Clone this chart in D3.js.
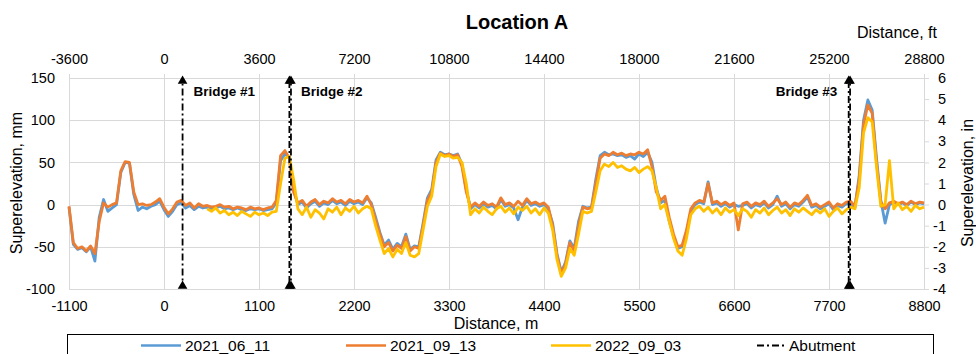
<!DOCTYPE html>
<html lang="en">
	<head>
		<meta charset="utf-8">
		<title>Location A</title>
		<script src="https://d3js.org/d3.v7.min.js"></script>
		<style type="text/css">
			body {
				margin: 0;
				background: #ffffff;
			}
			svg {
				display: block;
				font-family: Arial, "Liberation Sans", sans-serif;
			}
		</style>
	</head>
	<body>
		<div id="chart"></div>
		<script type="text/javascript">

			//Distance along the route, m
			var distance = [
				-1100, -1050, -1000, -950, -900, -850, -800, -750, -700, -650, -600, -550, -500, -450, -400, -350, -300, -250, -200, -150,
				-100, -50, 0, 50, 100, 150, 200, 250, 300, 350, 400, 450, 500, 550, 600, 650, 700, 750, 800, 850,
				900, 950, 1000, 1050, 1100, 1150, 1200, 1250, 1300, 1350, 1400, 1450, 1500, 1550, 1600, 1650, 1700, 1750, 1800, 1850,
				1900, 1950, 2000, 2050, 2100, 2150, 2200, 2250, 2300, 2350, 2400, 2450, 2500, 2550, 2600, 2650, 2700, 2750, 2800, 2850,
				2900, 2950, 3000, 3050, 3100, 3150, 3200, 3250, 3300, 3350, 3400, 3450, 3500, 3550, 3600, 3650, 3700, 3750, 3800, 3850,
				3900, 3950, 4000, 4050, 4100, 4150, 4200, 4250, 4300, 4350, 4400, 4450, 4500, 4550, 4600, 4650, 4700, 4750, 4800, 4850,
				4900, 4950, 5000, 5050, 5100, 5150, 5200, 5250, 5300, 5350, 5400, 5450, 5500, 5550, 5600, 5650, 5700, 5750, 5800, 5850,
				5900, 5950, 6000, 6050, 6100, 6150, 6200, 6250, 6300, 6350, 6400, 6450, 6500, 6550, 6600, 6650, 6700, 6750, 6800, 6850,
				6900, 6950, 7000, 7050, 7100, 7150, 7200, 7250, 7300, 7350, 7400, 7450, 7500, 7550, 7600, 7650, 7700, 7750, 7800, 7850,
				7900, 7950, 8000, 8050, 8100, 8150, 8200, 8250, 8300, 8350, 8400, 8450, 8500, 8550, 8600, 8650, 8700, 8750, 8800
			];

			//Superelevation, mm, one array per survey
			var run2021_06_11 = [
				-3, -47, -53, -51, -56, -50, -67, -15, 6, -8, -4, 0, 38, 50, 49, 12, -7, -3, -5, -2,
				0, 4, -6, -14, -8, 0, 2, -4, -1, -6, -2, -4, -3, -5, -4, -2, -5, -4, -6, -4,
				-6, -7, -5, -6, -5, -7, -6, -5, 2, 52, 60, 56, 18, 0, 3, -4, 1, 4, -2, 2,
				0, 5, 1, 3, -1, 4, 1, 3, 0, 8, 2, -15, -33, -48, -42, -53, -46, -50, -35, -53,
				-49, -50, -22, 8, 18, 53, 62, 59, 60, 58, 60, 48, 18, -5, 0, -4, 1, -3, -1, -5,
				6, -2, 0, -4, -18, -3, 5, -1, 1, -2, 0, -5, -22, -58, -80, -68, -43, -52, -20, -2,
				-4, -3, 30, 58, 62, 59, 60, 58, 59, 56, 58, 54, 60, 57, 62, 50, 20, 2, 5, -20,
				-38, -52, -50, -33, -8, 0, 3, 1, 27, 0, 2, -2, 1, -3, 0, -2, -1, 1, -4, 0,
				-2, 2, -4, 0, 10, -2, 1, -5, 0, -2, 3, 9, -3, -1, -5, -2, 1, -6, -1, -3,
				1, 2, -4, 35, 100, 124, 112, 55, 5, -22, 0, 3, 0, 2, -1, 3, 0, 2, 1
			];

			var run2021_09_13 = [
				-2, -45, -52, -50, -55, -49, -58, -20, 2, -3, 0, 2, 40, 51, 50, 15, 0, 1, -1, 0,
				3, 7, -3, -11, -5, 3, 5, -1, 2, -4, 1, -2, -1, -3, -2, 0, -3, -2, -5, -3,
				-4, -6, -3, -5, -4, -6, -4, -3, 5, 58, 64, 55, 15, 2, 5, -2, 3, 6, 0, 4,
				2, 7, 3, 5, 1, 6, 3, 5, 2, 10, 0, -18, -35, -50, -45, -55, -48, -52, -38, -55,
				-50, -52, -25, 5, 15, 50, 61, 58, 60, 57, 59, 45, 15, -3, 2, -2, 3, -1, 1, -3,
				8, 0, 2, -2, 4, -1, 7, 1, 3, 0, 2, -3, -25, -60, -82, -70, -45, -55, -25, -3,
				-5, -4, 25, 55, 60, 58, 62, 59, 61, 58, 60, 59, 62, 60, 65, 45, 15, 5, 10, -15,
				-35, -50, -48, -30, -5, 2, 5, 3, 25, 2, 4, 0, 3, -1, 2, -30, 1, 3, -2, 2,
				0, 4, -2, 2, 7, 0, 3, -3, 2, 0, 5, 11, -1, 1, -3, 0, 3, -4, 1, -1,
				3, 4, -2, 30, 95, 118, 108, 50, 3, -5, 2, 4, 1, 3, 0, 4, 1, 3, 2
			];

			var run2022_09_03 = [
				null, null, null, null, null, null, null, null, null, null, null, null, null, null, null, null, null, null, null, null,
				null, null, null, null, null, null, null, null, null, null, null, null, -5, -8, -4, -10, -7, -12, -9, -13,
				-8, -11, -14, -9, -12, -10, -13, -9, -8, 25, 55, 57, 30, -5, -12, -3, -15, -6, -10, -17,
				-5, -9, -3, -12, -4, -8, -2, -10, -5, -2, -5, -25, -42, -58, -52, -62, -53, -58, -45, -60,
				-62, -58, -30, -2, 10, 45, 60, 57, 58, 55, 56, 50, 25, -12, -5, -10, -3, -8, -12, -5,
				-2, -9, -4, -11, -3, -7, -2, -10, -5, -12, -4, -10, -30, -65, -85, -75, -52, -60, -35, -8,
				-10, -8, 15, 40, 48, 45, 50, 44, 46, 42, 40, 44, 38, 42, 45, 40, 20, -5, 0, -20,
				-40, -55, -60, -40, -12, -5, -2, -8, -3, -10, -5, -12, -4, -9, -6, -13, -5, -8, -15, -6,
				-10, -4, -12, -7, -3, -10, -6, -13, -5, -9, -4, -8, -12, -6, -10, -5, -14, -8, -4, -11,
				-6, -3, -5, 20, 85, 103, 98, 45, -2, 0, 52, -5, 2, -6, -2, -8, -1, -5, -3
			];

			var seriesNames = ["2021_06_11", "2021_09_13", "2022_09_03"];
			var seriesColors = ["#5b9bd5", "#ed7d31", "#ffc000"];

			//Tick labels
			var mTicks = [-1100, 0, 1100, 2200, 3300, 4400, 5500, 6600, 7700, 8800];
			var ftTicks = [-3600, 0, 3600, 7200, 10800, 14400, 18000, 21600, 25200, 28800];
			var mmTicks = [-100, -50, 0, 50, 100, 150];
			var inTicks = [-4, -3, -2, -1, 0, 1, 2, 3, 4, 5, 6];

			//Abutment positions, m, and bridge names
			var abutments = [215, 1452, 1470, 7928, 7944];
			var bridgeNames = ["Bridge #1", "Bridge #2", "Bridge #3"];
			var bridgeAt = [215, 1460, 7935];

			//Width and height
			var w = 976;
			var h = 354;
			var plotLeft = 69, plotRight = 924, plotTop = 78, plotBottom = 289;

			var xScale = d3.scaleLinear().domain([-1100, 8800]).range([plotLeft, plotRight]);
			var xFtScale = d3.scaleLinear().domain([-3600, 28800]).range([plotLeft, plotRight]);
			var yScale = d3.scaleLinear().domain([-100, 150]).range([plotBottom, plotTop]);
			var yInScale = d3.scaleLinear().domain([-4, 6]).range([plotBottom, plotTop]);

			//Plain labels with a hyphen minus, no thousands separator
			var plain = function(d) { return String(d); };

			var svg = d3.select("#chart")
						.append("svg")
						.attr("width", w)
						.attr("height", h);

			//Gridlines
			svg.append("g")
				.selectAll("line")
				.data(mTicks)
				.enter()
				.append("line")
				.attr("x1", function(d) { return Math.round(xScale(d)) + 0.5; })
				.attr("x2", function(d) { return Math.round(xScale(d)) + 0.5; })
				.attr("y1", plotTop)
				.attr("y2", plotBottom)
				.attr("stroke", "#d9d9d9");

			svg.append("g")
				.selectAll("line")
				.data(mmTicks)
				.enter()
				.append("line")
				.attr("x1", plotLeft)
				.attr("x2", plotRight)
				.attr("y1", function(d) { return Math.round(yScale(d)) + 0.5; })
				.attr("y2", function(d) { return Math.round(yScale(d)) + 0.5; })
				.attr("stroke", "#d9d9d9");

			//Axes
			var bottomAxis = svg.append("g")
				.attr("transform", "translate(0," + plotBottom + ")")
				.call(d3.axisBottom(xScale).tickValues(mTicks).tickFormat(plain).tickSize(0).tickPadding(11.5));

			var topAxis = svg.append("g")
				.attr("transform", "translate(0," + plotTop + ")")
				.call(d3.axisTop(xFtScale).tickValues(ftTicks).tickFormat(plain).tickSize(4).tickPadding(10));

			var leftAxis = svg.append("g")
				.attr("transform", "translate(" + plotLeft + ",0)")
				.call(d3.axisLeft(yScale).tickValues(mmTicks).tickFormat(plain).tickSize(0).tickPadding(14));

			var rightAxis = svg.append("g")
				.attr("transform", "translate(" + plotRight + ",0)")
				.call(d3.axisRight(yInScale).tickValues(inTicks).tickFormat(plain).tickSize(5).tickSizeOuter(0));

			[bottomAxis, topAxis, leftAxis].forEach(function(a) {
				a.select(".domain").remove();
			});
			rightAxis.select(".domain").attr("stroke", "#d9d9d9");
			rightAxis.selectAll("text")
				.attr("text-anchor", "end")
				.attr("x", 22);

			svg.selectAll(".tick line").attr("stroke", "#d9d9d9");
			svg.selectAll(".tick text")
				.attr("font-family", "Arial, 'Liberation Sans', sans-serif")
				.attr("font-size", "14.5px")
				.attr("fill", "#000");

			//Survey lines
			var line = d3.line()
				.defined(function(d) { return d[1] !== null; })
				.x(function(d) { return xScale(d[0]); })
				.y(function(d) { return yScale(d[1]); });

			var runs = [run2021_06_11, run2021_09_13, run2022_09_03];
			runs.forEach(function(values, i) {
				svg.append("path")
					.datum(distance.map(function(d, j) { return [d, values[j]]; }))
					.attr("d", line)
					.attr("fill", "none")
					.attr("stroke", seriesColors[i])
					.attr("stroke-width", 2.8)
					.attr("stroke-linejoin", "round");
			});

			//Abutment lines with arrowheads (paired abutments get staggered dashes)
			svg.append("g")
				.selectAll("line")
				.data(abutments)
				.enter()
				.append("line")
				.attr("x1", function(d) { return xScale(d); })
				.attr("x2", function(d) { return xScale(d); })
				.attr("y1", plotBottom - 6)
				.attr("y2", plotTop + 6)
				.attr("stroke", "#000")
				.attr("stroke-width", 1.8)
				.attr("stroke-dasharray", "7,3,2,3")
				.attr("stroke-dashoffset", function(d, i) { return i % 2 === 0 ? 7.5 : 0; });

			var tri = d3.symbol().type(d3.symbolTriangle).size(40);
			[plotTop + 3, plotBottom - 3].forEach(function(yy) {
				svg.append("g")
					.selectAll("path")
					.data(abutments)
					.enter()
					.append("path")
					.attr("d", tri)
					.attr("transform", function(d) { return "translate(" + xScale(d) + "," + yy + ")"; })
					.attr("fill", "#000");
			});

			//Bridge labels
			svg.append("g")
				.selectAll("text")
				.data(bridgeNames)
				.enter()
				.append("text")
				.text(function(d) { return d; })
				.attr("x", function(d, i) { return i < 2 ? xScale(bridgeAt[i]) + 11 : xScale(bridgeAt[i]) - 12; })
				.attr("y", 96)
				.attr("text-anchor", function(d, i) { return i < 2 ? "start" : "end"; })
				.attr("font-size", "13.5px")
				.attr("font-weight", "bold");

			//Titles
			svg.append("text")
				.text("Location A")
				.attr("x", 517)
				.attr("y", 29)
				.attr("text-anchor", "middle")
				.attr("font-size", "20px")
				.attr("font-weight", "bold");

			svg.append("text")
				.text("Distance, ft")
				.attr("x", 937)
				.attr("y", 38)
				.attr("text-anchor", "end")
				.attr("font-size", "16px");

			svg.append("text")
				.text("Distance, m")
				.attr("x", 496)
				.attr("y", 329)
				.attr("text-anchor", "middle")
				.attr("font-size", "16px");

			svg.append("text")
				.text("Superelevation, mm")
				.attr("transform", "translate(22,183) rotate(-90)")
				.attr("text-anchor", "middle")
				.attr("font-size", "16px");

			svg.append("text")
				.text("Superelevation, in")
				.attr("transform", "translate(973,183) rotate(-90)")
				.attr("text-anchor", "middle")
				.attr("font-size", "16px");

			//Legend
			svg.append("rect")
				.attr("x", 67.5)
				.attr("y", 334.5)
				.attr("width", 866)
				.attr("height", 30)
				.attr("fill", "#fff")
				.attr("stroke", "#000");

			var legendX = [141, 346, 551, 757];
			var legendItems = seriesNames.concat(["Abutment"]);
			var legend = svg.append("g")
				.selectAll("g")
				.data(legendItems)
				.enter()
				.append("g");

			legend.append("line")
				.attr("x1", function(d, i) { return legendX[i]; })
				.attr("x2", function(d, i) { return legendX[i] + (i < 3 ? 40 : 28); })
				.attr("y1", 345.5)
				.attr("y2", 345.5)
				.attr("stroke", function(d, i) { return i < 3 ? seriesColors[i] : "#000"; })
				.attr("stroke-width", function(d, i) { return i < 3 ? 2.5 : 2; })
				.attr("stroke-dasharray", function(d, i) { return i < 3 ? null : "7,3,2,3"; });

			legend.append("text")
				.text(function(d) { return d; })
				.attr("x", function(d, i) { return legendX[i] + (i < 3 ? 44 : 32); })
				.attr("y", 351)
				.attr("font-size", "15.5px");

		</script>
	</body>
</html>
